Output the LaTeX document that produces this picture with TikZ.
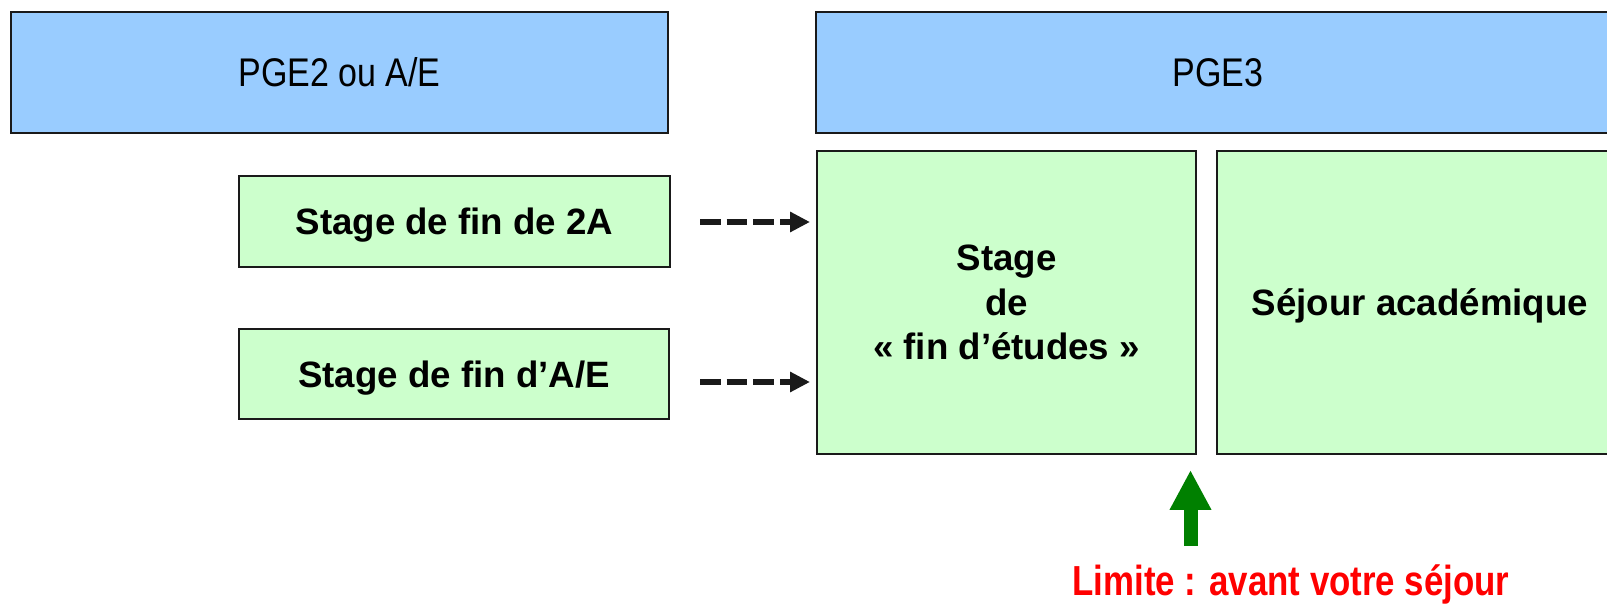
\documentclass[tikz,border=0pt]{standalone}
\usepackage{fontspec}
\setmainfont{Liberation Sans}
\newfontfamily\pgefont[FakeStretch=0.85]{Liberation Sans}
\newfontfamily\limfont[FakeStretch=0.83]{Liberation Sans Bold}
\usetikzlibrary{arrows.meta}
\definecolor{hdrblue}{HTML}{99CCFF}
\definecolor{boxgreen}{HTML}{CCFFCC}
\definecolor{edgecol}{HTML}{1A1A1A}
\definecolor{arrgreen}{HTML}{008000}
\definecolor{limred}{HTML}{FF0000}
\begin{document}
\begin{tikzpicture}[x=0.75pt,y=-0.75pt,
  box/.style={draw=edgecol,line width=1.5pt,inner sep=0pt,align=center},
  hdr/.style={box,fill=hdrblue,font=\pgefont\fontsize{30}{36}\selectfont},
  stagebox/.style={box,fill=boxgreen,font=\bfseries\fontsize{27.5}{33.4}\selectfont},
  oneline/.style={stagebox,text depth=0pt},
  dasharrow/.style={draw=edgecol,line width=4.5pt,dash pattern=on 15.5pt off 4.5pt,-{Triangle[length=15pt,width=14.5pt]}},
  blockarrow/.style={draw=arrgreen,line width=10.5pt,-{Triangle[length=30pt,width=29.25pt]}},
  limit/.style={text=limred,font=\limfont\fontsize{31.5}{38}\selectfont,inner sep=0pt,anchor=base}]
\useasboundingbox (0,0) rectangle (1607,605);
\clip (0,0) rectangle (1607,605);
\fill[white] (0,0) rectangle (1607,605);
% headers
\node[hdr,minimum width=492.75pt,minimum height=90.75pt] (pge2) at (339.5,72.5) {PGE2 ou A/E};
\node[hdr,minimum width=603pt,minimum height=90.75pt] (pge3) at (1218,72.5) {PGE3};
% left boxes
\node[oneline,minimum width=323.25pt,minimum height=68.25pt] (s2a) at (454.5,221.5) {Stage de fin de 2A};
\node[oneline,minimum width=322.5pt,minimum height=67.5pt] (sae) at (454,374) {Stage de fin d’A/E};
% right boxes
\node[stagebox,minimum width=284.25pt,minimum height=227.25pt] (fin) at (1006.5,302.5) {Stage\\de\\« fin d’études »};
\node[oneline,minimum width=304.5pt,minimum height=227.25pt] (sej) at (1420,302.5) {Séjour académique};
% dashed arrows
\coordinate (d1s) at (700,222);
\coordinate (d1e) at (810,222);
\coordinate (d2s) at (700,382);
\coordinate (d2e) at (810,382);
\draw[dasharrow] (d1s) -- (d1e);
\draw[dasharrow] (d2s) -- (d2e);
% green arrow
\coordinate (gb) at (1190.5,546);
\coordinate (gt) at (1190.5,470);
\draw[blockarrow] (gb) -- (gt);
% limit text
\node[limit] (lim) at (1291,595) {Limite : avant votre séjour};
\end{tikzpicture}
\end{document}
